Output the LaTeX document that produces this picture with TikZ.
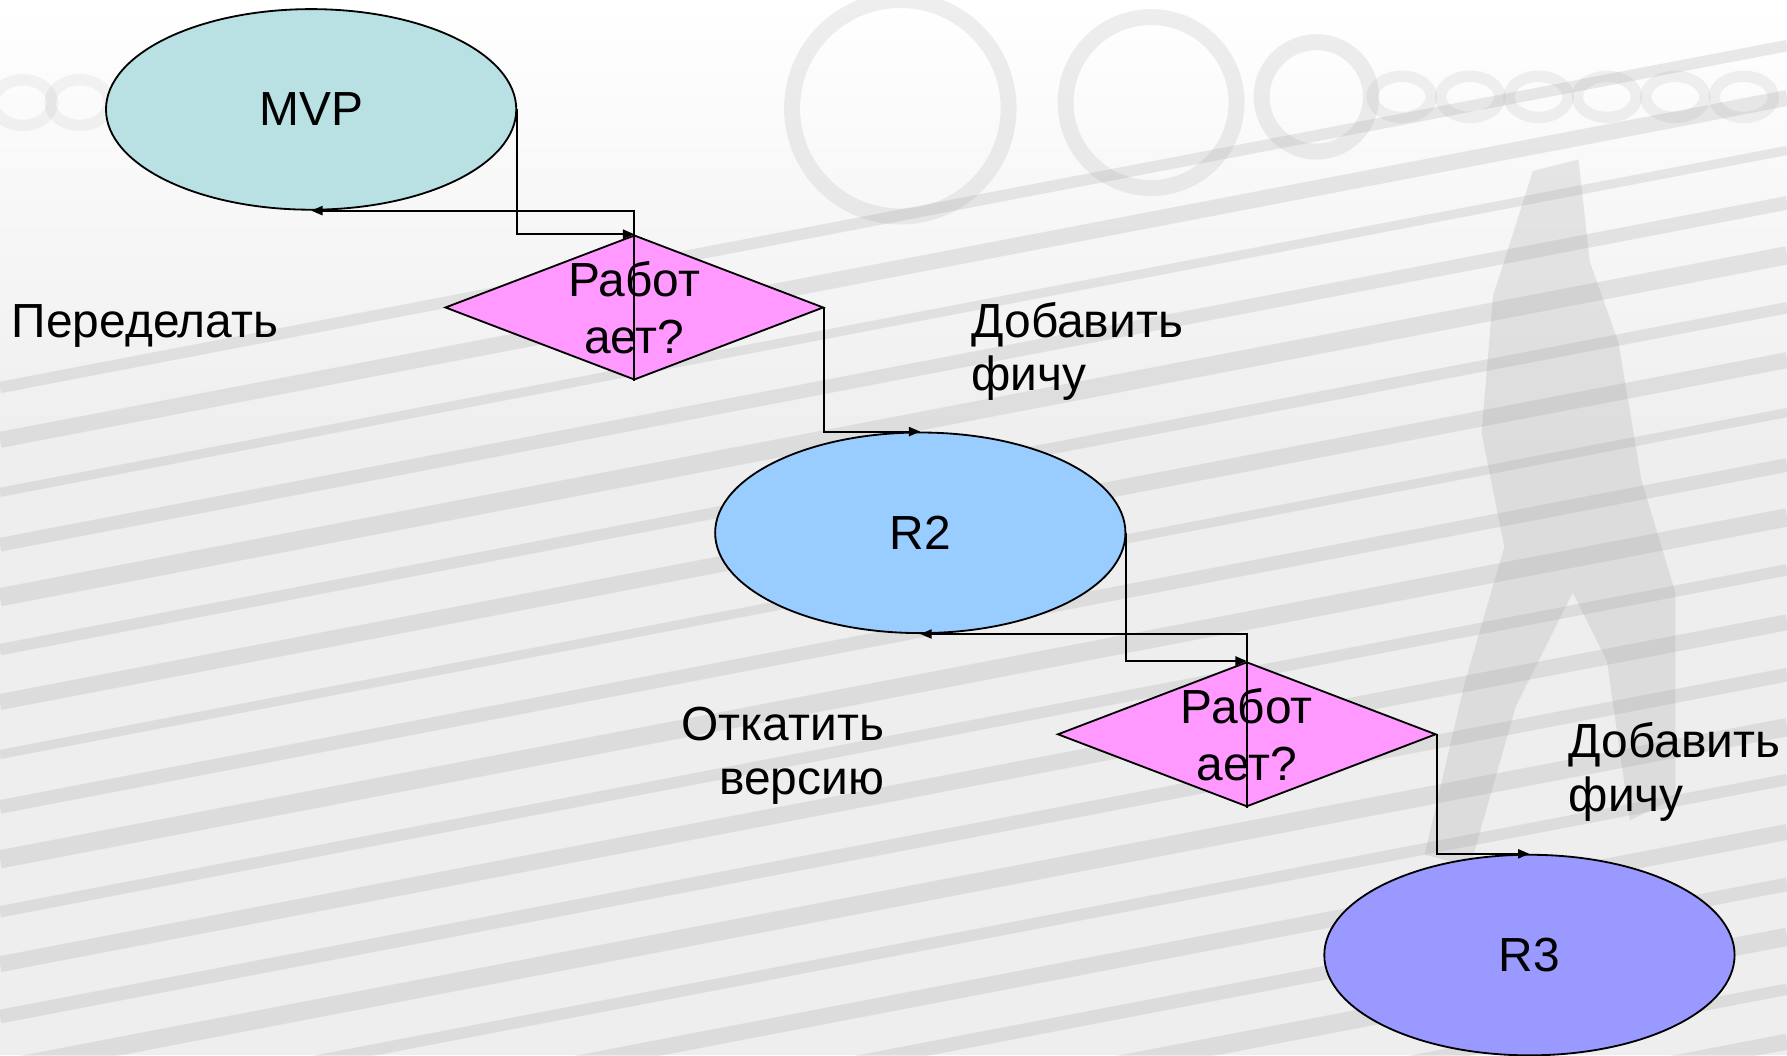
\documentclass[tikz,border=0pt]{standalone}
\usepackage{fontspec}
\setmainfont{Liberation Sans}
\usetikzlibrary{shapes.geometric,arrows.meta}

\definecolor{mvpfill}{RGB}{185,224,227}
\definecolor{rtwofill}{RGB}{153,204,255}
\definecolor{rthreefill}{RGB}{153,153,255}
\definecolor{checkfill}{RGB}{255,153,255}
\definecolor{paper}{RGB}{238,238,238}
\definecolor{streak}{RGB}{150,150,150}

\begin{document}
\begin{tikzpicture}[x=0.5pt,y=-0.5pt,
  release/.style={ellipse,draw=black,line width=0.8pt,minimum width=180pt,
                  minimum height=88pt,inner sep=0pt,font=\fontsize{21}{23.5}\selectfont},
  check/.style={diamond,draw=black,line width=0.8pt,fill=checkfill,
                minimum width=166pt,minimum height=63.5pt,inner sep=0pt},
  txt/.style={font=\fontsize{21}{23.5}\selectfont,inner sep=0pt},
  qtxt/.style={font=\fontsize{21}{25}\selectfont,inner sep=0pt,align=center},
  conn/.style={line width=0.85pt,-{Triangle[length=5pt,width=4pt]}}]

  \useasboundingbox (0,0) rectangle (1568,926);

  % faded backdrop: pale paper with slanted streaks and globe outlines
  \begin{scope}
    \clip (0,0) rectangle (1568,926);
    \shade[top color=white,bottom color=paper] (0,0) rectangle (1568,400);
    \fill[paper] (0,400) rectangle (1568,926);
    \foreach \k/\w in {0/5,1/7,2/4,3/6,4/8,5/5,6/7,7/4,8/6,9/8,10/5,11/7,
                       12/6,13/8,14/5,15/7,16/6,17/8,18/5,19/7,20/6,21/8,22/6}{
      \draw[streak,line width=\w pt,opacity=0.2]
        (0,340+\k*46) -- (1568,40+\k*46);
    }
    \foreach \cx/\cy/\r in {790/95/95,1010/90/75,1155/85/48}{
      \draw[streak,line width=7pt,opacity=0.16] (\cx,\cy) ellipse[x radius=\r,y radius=\r];
    }
    \foreach \cx in {1230,1290,1350,1410,1470,1530}{
      \draw[streak,line width=5pt,opacity=0.13] (\cx,85) ellipse[x radius=26,y radius=18];
    }
    \foreach \cx in {20,70}{
      \draw[streak,line width=5pt,opacity=0.1] (\cx,90) ellipse[x radius=26,y radius=20];
    }
    % walking figure, faint
    \fill[streak,opacity=0.2]
      (1345,150) -- (1385,140) -- (1395,230) -- (1420,300) -- (1440,420)
      -- (1470,520) -- (1470,700) -- (1430,720) -- (1410,580) -- (1380,520)
      -- (1330,620) -- (1290,760) -- (1250,750) -- (1285,600) -- (1320,480)
      -- (1300,380) -- (1310,260) -- cycle;
  \end{scope}

  % releases and checks
  \node[release,fill=mvpfill]    (mvp) at (273,96)    {MVP};
  \node[check]                   (d1)  at (556.6,269.8) {};
  \node[release,fill=rtwofill]   (r2)  at (807.5,467.5) {R2};
  \node[check]                   (d2)  at (1094,644.3)  {};
  \node[release,fill=rthreefill] (r3)  at (1342,838)    {R3};

  \node[qtxt] (q1) at (556.6,270) {Работ\\ает?};
  \node[qtxt] (q2) at (1094,644.5) {Работ\\ает?};

  % branch labels (base = baseline of the last line)
  \node[txt,anchor=base west] (redo) at (10,296) {Переделать};
  \node[txt,anchor=base west,align=left] (addA) at (852,343) {Добавить\\фичу};
  \node[txt,anchor=base east,align=right] (undo) at (776,697) {Откатить\\версию};
  \node[txt,anchor=base west,align=left] (addB) at (1376,712) {Добавить\\фичу};

  % elbow connectors
  \draw[conn] (mvp.east) |- (d1.north);
  \draw[conn] (d1.south) |- (mvp.south);
  \draw[conn] (d1.east)  |- (r2.north);
  \draw[conn] (r2.east)  |- (d2.north);
  \draw[conn] (d2.south) |- (r2.south);
  \draw[conn] (d2.east)  |- (r3.north);
\end{tikzpicture}
\end{document}
